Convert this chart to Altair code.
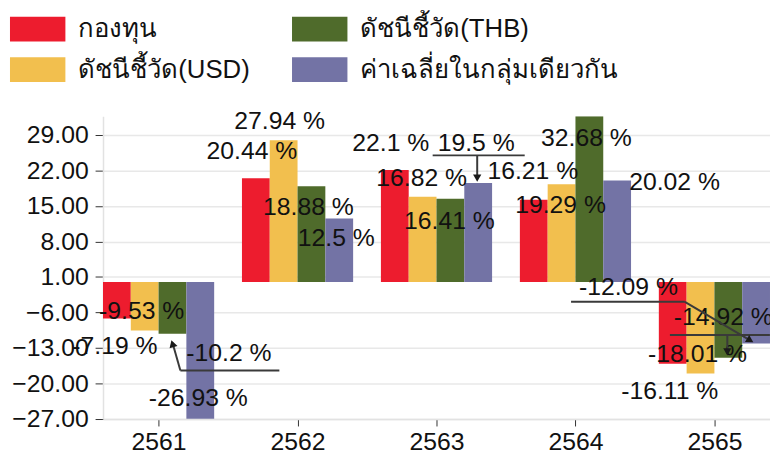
import altair as alt
import pandas as pd

# ---- data ----
years = ["2561", "2562", "2563", "2564", "2565"]
series_names = ["กองทุน", "ดัชนีชี้วัด(USD)", "ดัชนีชี้วัด(THB)", "ค่าเฉลี่ยในกลุ่มเดียวกัน"]
fund = [-7.19, 20.44, 22.1, 16.21, -16.11]
usd = [-9.53, 27.94, 16.82, 19.29, -18.01]
thb = [-10.2, 18.88, 16.41, 32.68, -14.92]
peer = [-26.93, 12.5, 19.5, 20.02, -12.09]
series_values = [fund, usd, thb, peer]

legend_order = ["กองทุน", "ดัชนีชี้วัด(USD)", "ดัชนีชี้วัด(THB)", "ค่าเฉลี่ยในกลุ่มเดียวกัน"]
legend_colors = ["#ED1C2E", "#F2BF4E", "#4F6B2B", "#7373A5"]

y_ticks = [-27, -20, -13, -6, 1, 8, 15, 22, 29]

# ---- label placement (pixel offsets from bar end), style only ----
label_dx = [
    [-2, -4, -4, -1, -3],
    [-3, -4, -1, -1, -3],
    [57, -3, -1, -3, -5],
    [-2, -3, -2, 58, -129],
]
label_dy = [
    [28, -28, -27, -29, 28],
    [-20, -19, -19, 21, -20],
    [20, 21, 23, 22, -41],
    [-21, 20, -40, 2, -57],
]
# leader segments: (year idx, series idx, x1, y1, x2, y2) pixel offsets from bar end
leaders = [
    (0, 2, 0, 9, 8, 37), (0, 2, 8, 37, 108, 37),
    (2, 3, -46, -28, 47, -28), (2, 3, -1, -28, -1, -6),
    (4, 2, -59, -23, 42, -23), (4, 2, -1, -23, -1, -7),
    (4, 3, -187, -42, -72, -42), (4, 3, -72, -42, -6, -3),
]
# arrow heads: (year idx, series idx, dx, dy, angle)
heads = [
    (0, 2, 0, 10, 343),
    (2, 3, -1, -5, 180),
    (4, 2, -1, -6, 180),
    (4, 3, -6, -3, 121),
]

FONT = "Liberation Sans"

rows = []
for si, name in enumerate(series_names):
    for gi, yr in enumerate(years):
        v = series_values[si][gi]
        rows.append(dict(series=name, year=yr, gi=gi, si=si, value=v,
                         label=f"{v} %", ldx=label_dx[si][gi], ldy=label_dy[si][gi]))
df = pd.DataFrame(rows)

lead_df = pd.DataFrame([dict(gi=g, si=s, value=series_values[s][g], ox1=a, oy1=b, ox2=c, oy2=d)
                        for g, s, a, b, c, d in leaders])
head_df = pd.DataFrame([dict(gi=g, si=s, value=series_values[s][g], ax=a, ay=b, ang=t)
                        for g, s, a, b, t in heads])

xc_expr = "datum.gi + (datum.si - 1.5) * 0.2"
xscale = alt.Scale(domain=[-0.4, 4.4], nice=False, zero=False)
yscale = alt.Scale(domain=[-27, 32.68], nice=False, zero=False)

label_expr = "[" + ",".join(f"'{y}'" for y in years) + "][datum.value]"

xaxis = alt.Axis(values=[0, 1, 2, 3, 4], labelExpr=label_expr, grid=False, title=None,
                 tickSize=7, tickColor="#333333", domainColor="#e2e2e2", domainWidth=1.5,
                 labelPadding=4, labelOverlap=False)
yaxis = alt.Axis(values=y_ticks, format=".2f", title=None, tickSize=8, tickColor="#333333",
                 domainColor="#e2e2e2", domainWidth=1.5, labelPadding=7,
                 labelOverlap=False, labelBound=False, labelFlush=False,
                 gridColor="#e8e8e8", gridWidth=1.5)

bars = alt.Chart(df).transform_calculate(
    xc=xc_expr
).transform_calculate(
    x0="datum.xc - 0.1", x1="datum.xc + 0.1"
).mark_bar(clip=True).encode(
    x=alt.X("x0:Q", scale=xscale, axis=xaxis),
    x2="x1",
    y=alt.Y("value:Q", scale=yscale, stack=None, axis=yaxis),
    y2=alt.datum(0),
    color=alt.Color("series:N", scale=alt.Scale(domain=legend_order, range=legend_colors),
                    legend=alt.Legend(title=None, orient="none", legendX=-94, legendY=-116,
                                      columns=2, columnPadding=40, rowPadding=-2,
                                      symbolType="M-1,-0.4464H1V0.4464H-1Z", symbolSize=3136,
                                      symbolStrokeWidth=0, symbolOpacity=1, labelOffset=13,
                                      labelFont=FONT, labelFontSize=26, labelColor="#111111",
                                      labelLimit=400)),
)

texts = alt.Chart(df).transform_calculate(xc=xc_expr).mark_text(
    font=FONT, fontSize=25, color="#111111", align="center", baseline="middle",
    dx=alt.ExprRef(expr="datum.ldx"), dy=alt.ExprRef(expr="datum.ldy"),
).encode(x=alt.X("xc:Q", scale=xscale, axis=xaxis),
         y=alt.Y("value:Q", scale=yscale, axis=yaxis), text="label:N")

rules = alt.Chart(lead_df).transform_calculate(xc=xc_expr).mark_rule(
    color="#3a3a3a", strokeWidth=2,
    xOffset=alt.ExprRef(expr="datum.ox1"), yOffset=alt.ExprRef(expr="datum.oy1"),
    x2Offset=alt.ExprRef(expr="datum.ox2"), y2Offset=alt.ExprRef(expr="datum.oy2"),
).encode(x=alt.X("xc:Q", scale=xscale, axis=xaxis), x2="xc",
         y=alt.Y("value:Q", scale=yscale, axis=yaxis), y2="value")

arrow = alt.Chart(head_df).transform_calculate(xc=xc_expr).mark_point(
    shape="triangle-up", filled=True, color="#1a1a1a", opacity=1, size=70,
    xOffset=alt.ExprRef(expr="datum.ax"), yOffset=alt.ExprRef(expr="datum.ay"),
).encode(x=alt.X("xc:Q", scale=xscale, axis=xaxis),
         y=alt.Y("value:Q", scale=yscale, axis=yaxis),
         angle=alt.Angle("ang:Q", scale=None))

chart = alt.layer(bars, texts, rules, arrow).properties(
    width=674, height=306,
    padding={"left": 96, "top": 107, "right": 0, "bottom": 34},
    autosize=alt.AutoSizeParams(type="none"),
).configure_view(strokeWidth=0).configure_axis(
    labelFont=FONT, labelFontSize=25, labelColor="#111111", labelOverlap=False
)

chart.save("out.html", embed_options={"renderer": "svg", "actions": False})
